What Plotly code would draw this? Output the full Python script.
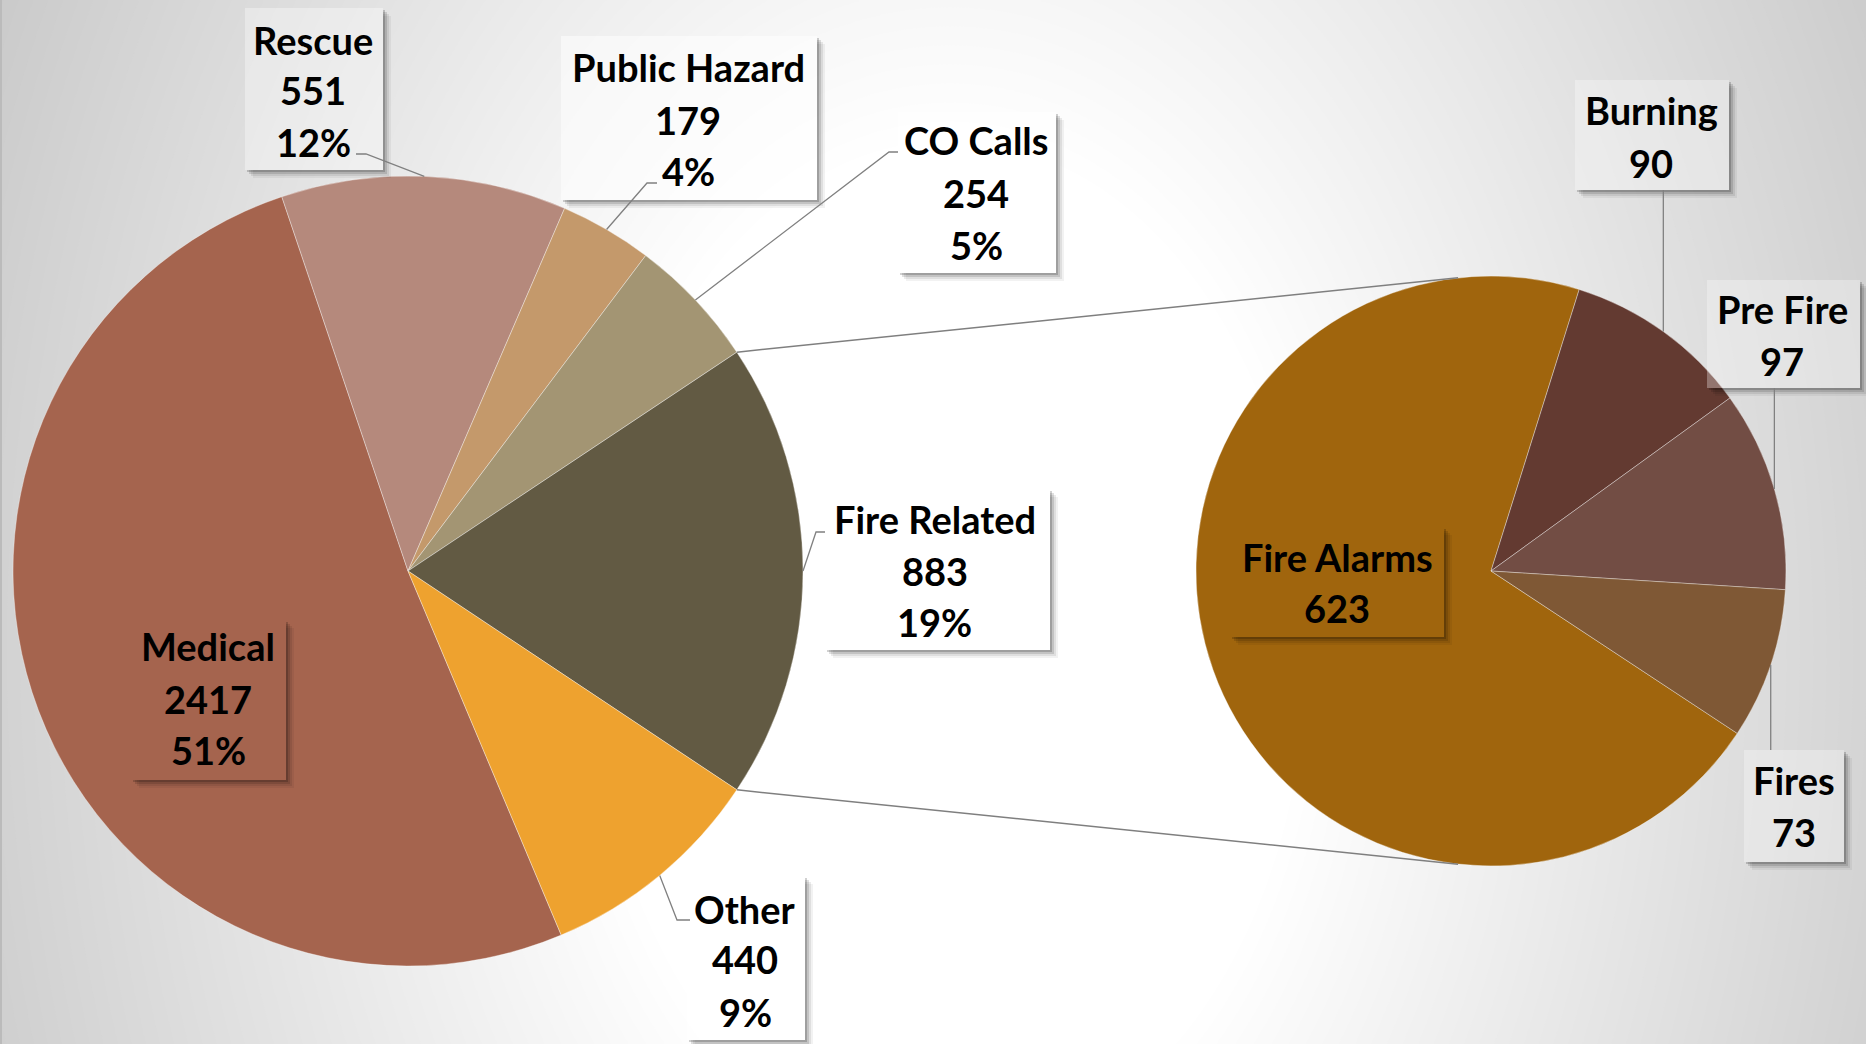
import math
import plotly.graph_objects as go

# ---------------- data ----------------
categories = ["Medical", "Rescue", "Public Hazard", "CO Calls", "Fire Related", "Other"]
values = [2417, 551, 179, 254, 883, 440]
colors = ["#A5644E", "#B5897C", "#C4996B", "#A39573", "#625A43", "#EEA22F"]

sub_categories = ["Fire Alarms", "Burning", "Pre Fire", "Fires"]
sub_values = [623, 90, 97, 73]
sub_colors = ["#A0650D", "#633A31", "#724D44", "#7F5835"]

# ---------------- layout geometry (pixels) ----------------
W, H = 1866, 1044
MAIN_C, MAIN_R = (408, 571), 395
SUB_C, SUB_R = (1491, 571), 295
SUB_ROTATION = 123.4
CONNECT_ANGLE = 6.4
SPLIT_INDEX = categories.index("Fire Related")

FONT = dict(family="Lato", size=38, color="black", weight="bold")

main_labels = {
    "Medical": dict(box=(131, 620, 286, 780), cx=208, ys=(646, 699, 750), fill="rgba(255,255,255,0.0)", lead=None),
    "Rescue": dict(box=(245, 8, 383, 170), cx=313, ys=(40, 90, 142), fill="rgba(255,255,255,0.35)", lead=((356, 154), (366, 154))),
    "Public Hazard": dict(box=(561, 36, 817, 200), cx=688, ys=(67, 120, 171), fill="rgba(255,255,255,0.5)", lead=((657, 183), (647, 183))),
    "CO Calls": dict(box=(898, 112, 1056, 273), cx=976, ys=(140, 193, 245), fill="rgba(255,255,255,0.5)", lead=((898, 152), (889, 152))),
    "Fire Related": dict(box=(825, 489, 1050, 650), cx=935, ys=(519, 571, 622), fill="rgba(255,255,255,0.5)", lead=((825, 532), (816, 532))),
    "Other": dict(box=(687, 876, 805, 1040), cx=745, ys=(909, 959, 1012), fill="rgba(255,255,255,0.5)", lead=((690, 920), (677, 920))),
}
sub_labels = {
    "Fire Alarms": dict(box=(1230, 527, 1444, 637), cx=1337, ys=(557, 608), fill="rgba(255,255,255,0.0)", lead=None),
    "Burning": dict(box=(1575, 80, 1729, 190), cx=1651, ys=(110, 163), fill="rgba(255,255,255,0.3)", lead=190),
    "Pre Fire": dict(box=(1707, 280, 1860, 388), cx=1782, ys=(309, 361), fill="rgba(255,255,255,0.3)", lead=388),
    "Fires": dict(box=(1744, 750, 1844, 862), cx=1794, ys=(780, 832), fill="rgba(255,255,255,0.3)", lead=750),
}


def px(x):
    return x / W


def py(y):
    return 1 - y / H


def edge_point(c, r, ang):
    a = math.radians(ang)
    return c[0] + r * math.sin(a), c[1] - r * math.cos(a)


def domain(c, r):
    return dict(x=[px(c[0] - r), px(c[0] + r)], y=[py(c[1] + r), py(c[1] - r)])


total = sum(values)
sub_total = sum(sub_values)

# main pie rotation: split slice centred on 3 o'clock (Excel pie-of-pie)
split_start = 90 - values[SPLIT_INDEX] / total * 180
main_rotation = (split_start - sum(values[:SPLIT_INDEX]) / total * 360) % 360


def mid_angles(vals, rot):
    t = sum(vals)
    out, acc = [], rot
    for v in vals:
        span = v / t * 360
        out.append(acc + span / 2)
        acc += span
    return out


main_mids = mid_angles(values, main_rotation)
sub_mids = mid_angles(sub_values, SUB_ROTATION)

fig = go.Figure()
fig.add_trace(go.Pie(
    labels=categories, values=values, sort=False, direction="clockwise",
    rotation=main_rotation, marker=dict(colors=colors, line=dict(color="rgba(255,255,255,0.45)", width=0.8)),
    textinfo="none", hoverinfo="skip", showlegend=False, domain=domain(MAIN_C, MAIN_R),
))
fig.add_trace(go.Pie(
    labels=sub_categories, values=sub_values, sort=False, direction="clockwise",
    rotation=SUB_ROTATION, marker=dict(colors=sub_colors, line=dict(color="rgba(255,255,255,0.45)", width=0.8)),
    textinfo="none", hoverinfo="skip", showlegend=False, domain=domain(SUB_C, SUB_R),
))

shapes = []

# radial background gradient
GC, K = (950, 650), 0.7
for g in range(62, -1, -1):
    t = 350 + (g + 0.5) / 0.075
    c = 255 - g
    shapes.append(dict(type="circle", xref="paper", yref="paper", layer="below",
                       x0=px(GC[0] - t), x1=px(GC[0] + t), y0=py(GC[1] + t / K), y1=py(GC[1] - t / K),
                       fillcolor=f"rgb({c},{c},{c})", line=dict(width=0)))
shapes.append(dict(type="line", xref="paper", yref="paper", layer="below",
                   x0=px(1), x1=px(1), y0=0, y1=1, line=dict(color="#BBBBBB", width=2)))

# connector lines between the pies
a0 = split_start
a1 = split_start + values[SPLIT_INDEX] / total * 360
for ma, sa in ((a0, -CONNECT_ANGLE), (a1, 180 + CONNECT_ANGLE)):
    p1 = edge_point(MAIN_C, MAIN_R, ma)
    p2 = edge_point(SUB_C, SUB_R, sa)
    shapes.append(dict(type="line", xref="paper", yref="paper", x0=px(p1[0]), y0=py(p1[1]),
                       x1=px(p2[0]), y1=py(p2[1]), line=dict(color="#7F7F7F", width=1.5)))


def path(pts):
    return "M " + " L ".join(f"{px(x)},{py(y)}" for x, y in pts) + " Z"


def add_box(box, fill, shadow_rgb):
    x0, y0, x1, y1 = box
    for d, al in ((8, 0.05), (6, 0.08), (4, 0.12), (2, 0.18)):
        pts = [(x1, y0 + d), (x1 + d, y0 + d), (x1 + d, y1 + d), (x0 + d, y1 + d), (x0 + d, y1), (x1, y1)]
        shapes.append(dict(type="path", xref="paper", yref="paper", path=path(pts),
                           fillcolor=f"rgba({shadow_rgb},{al})", line=dict(width=0)))
    shapes.append(dict(type="rect", xref="paper", yref="paper", x0=px(x0), x1=px(x1), y0=py(y1), y1=py(y0),
                       fillcolor=fill, line=dict(width=0)))


annotations = []


def add_text(cx, ys, lines):
    for y, s in zip(ys, lines):
        annotations.append(dict(xref="paper", yref="paper", x=px(cx), y=py(y), text=s, showarrow=False,
                                xanchor="center", yanchor="middle", font=FONT))


def polyline(pts):
    return "M " + " L ".join(f"{px(x)},{py(y)}" for x, y in pts)


for i, cat in enumerate(categories):
    lab = main_labels[cat]
    add_box(lab["box"], lab["fill"], "0,0,0")
    pct = f"{round(values[i] / total * 100)}%"
    add_text(lab["cx"], lab["ys"], [cat, str(values[i]), pct])
    if lab["lead"]:
        e = edge_point(MAIN_C, MAIN_R, main_mids[i])
        shapes.append(dict(type="path", xref="paper", yref="paper",
                           path=polyline([lab["lead"][0], lab["lead"][1], e]),
                           line=dict(color="#808080", width=1.3)))

for i, cat in enumerate(sub_categories):
    lab = sub_labels[cat]
    add_box(lab["box"], lab["fill"], "0,0,0")
    add_text(lab["cx"], lab["ys"], [cat, str(sub_values[i])])
    if lab["lead"] is not None:
        e = edge_point(SUB_C, SUB_R, sub_mids[i])
        shapes.append(dict(type="line", xref="paper", yref="paper", x0=px(e[0]), x1=px(e[0]),
                           y0=py(lab["lead"]), y1=py(e[1]), line=dict(color="#808080", width=1.3)))

fig.update_layout(
    width=W, height=H, margin=dict(l=0, r=0, t=0, b=0),
    paper_bgcolor="rgb(193,193,193)", plot_bgcolor="rgba(0,0,0,0)",
    shapes=shapes, annotations=annotations, showlegend=False,
)
fig.write_html(
    "out.html",
    config={"displayModeBar": False},
    post_script="document.body.style.margin='0px';document.body.style.overflow='hidden';",
)
